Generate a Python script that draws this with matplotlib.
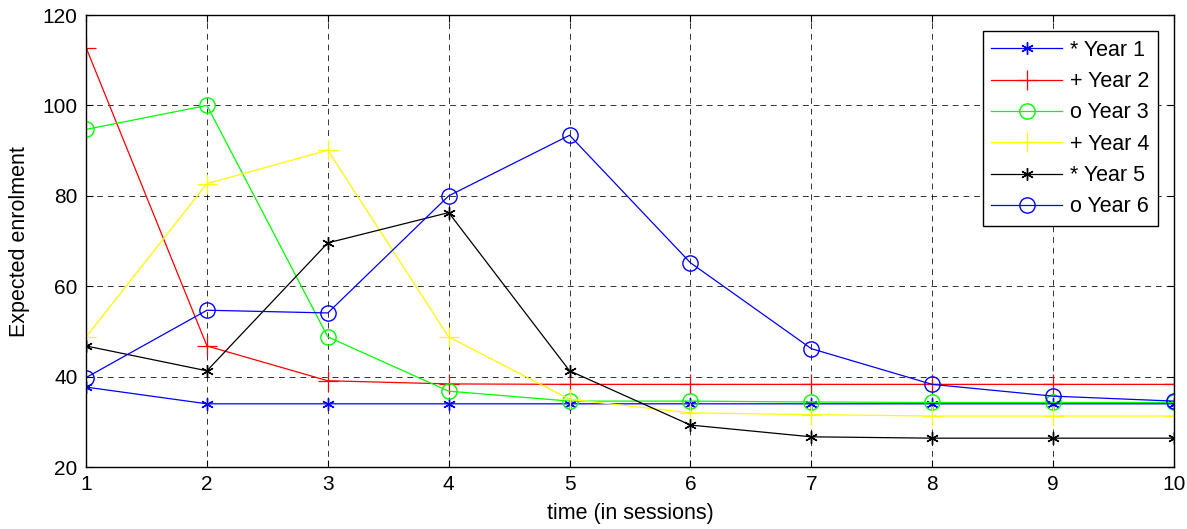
import numpy as np
import matplotlib
matplotlib.use("Agg")
import matplotlib.pyplot as plt

plt.rcParams['font.family'] = ['Liberation Sans', 'DejaVu Sans']

# ---- data ----
sessions = [1, 2, 3, 4, 5, 6, 7, 8, 9, 10]

year1 = [37.7, 34.0, 34.0, 34.0, 34.0, 34.0, 34.0, 34.0, 34.0, 34.0]
year2 = [112.8, 46.8, 39.1, 38.4, 38.3, 38.3, 38.3, 38.3, 38.3, 38.3]
year3 = [94.7, 100.0, 48.8, 36.8, 34.6, 34.6, 34.4, 34.3, 34.3, 34.3]
year4 = [48.8, 82.7, 90.1, 48.8, 35.0, 32.0, 31.6, 31.3, 31.3, 31.3]
year5 = [46.8, 41.3, 69.6, 76.3, 41.3, 29.3, 26.7, 26.4, 26.4, 26.4]
year6 = [39.8, 54.7, 54.1, 80.0, 93.4, 65.2, 46.2, 38.3, 35.7, 34.6]

labels = ["* Year 1", "+ Year 2", "o Year 3", "+ Year 4", "* Year 5", "o Year 6"]

# =========================================================
# PLOT
# =========================================================
fig = plt.figure(figsize=(11.87, 5.29), dpi=100)
ax = fig.add_axes([0.0725, 0.117, 0.9165, 0.8546])

asterisk = (6, 2, 0)
ax.plot(sessions, year1, color="#0000ff", marker=asterisk, ms=9, lw=0.9, label=labels[0])
ax.plot(sessions, year2, color="#ff0000", marker="+", ms=14, lw=0.9, mew=0.9, label=labels[1])
ax.plot(sessions, year3, color="#00ff00", marker="o", ms=11, mfc="none", lw=0.9, label=labels[2])
ax.plot(sessions, year4, color="#ffff00", marker="+", ms=14, lw=0.9, mew=0.9, label=labels[3])
ax.plot(sessions, year5, color="black", marker=asterisk, ms=9, lw=0.9, label=labels[4])
ax.plot(sessions, year6, color="#0000ff", marker="o", ms=11, mfc="none", lw=0.9, label=labels[5])

ax.set_xlim(1, 10)
ax.set_ylim(20, 120)
ax.set_xticks(sessions)
ax.set_yticks([20, 40, 60, 80, 100, 120])

ax.grid(True, color="black", linestyle=(0, (6, 5)), linewidth=0.7, alpha=0.8)
ax.tick_params(direction="in", top=True, right=True, labelsize=15, length=5, pad=6)
for s in ax.spines.values():
    s.set_linewidth(1.0)

ax.set_xlabel("time (in sessions)", fontsize=15.5, labelpad=6)
ax.set_ylabel("Expected enrolment", fontsize=15.5, labelpad=9)

leg = ax.legend(loc="upper right", fontsize=15.5, handlelength=3.3, fancybox=False,
                framealpha=1, edgecolor="black", borderaxespad=0.75,
                labelspacing=0.48, borderpad=0.4, handletextpad=0.35)
leg.get_frame().set_linewidth(1.0)

fig.savefig("out.png", dpi=100)
